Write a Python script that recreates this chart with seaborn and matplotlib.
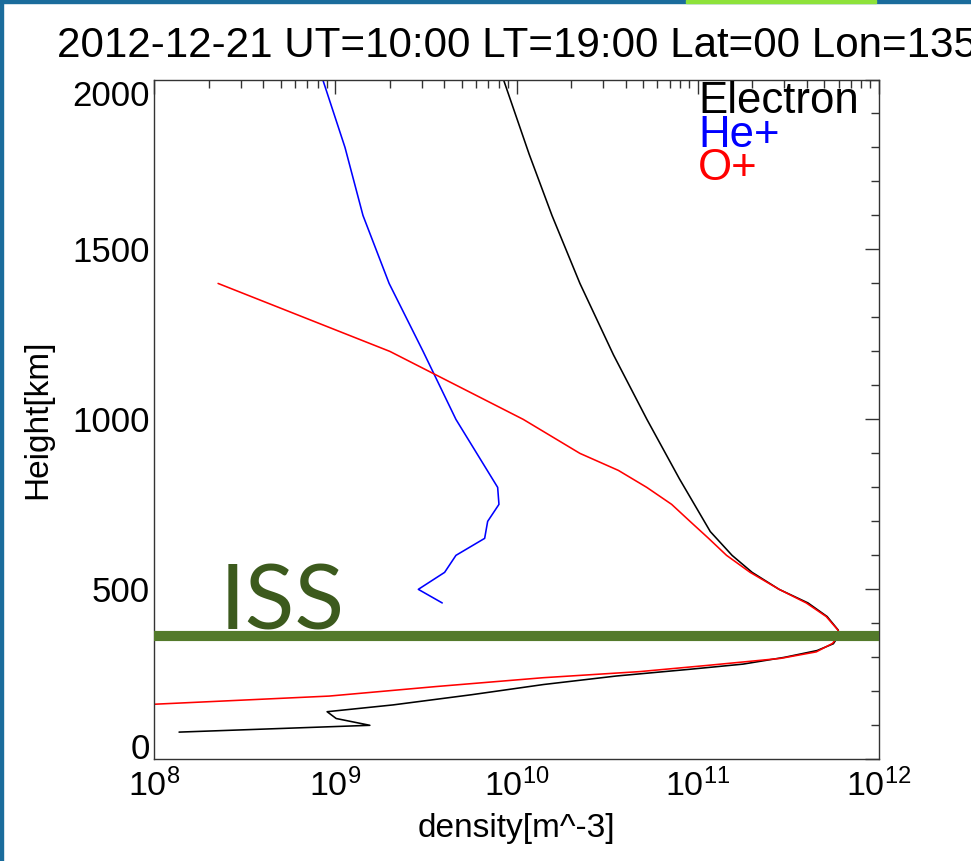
import numpy as np
import pandas as pd
import matplotlib
matplotlib.use("Agg")
import matplotlib.pyplot as plt
from matplotlib.patches import Rectangle
from matplotlib.ticker import MultipleLocator, LogLocator, LogFormatterSciNotation
import seaborn as sns

# ---------------- data ----------------
electron_height = [80, 100, 120, 140, 160, 190, 220, 245, 265, 280, 300, 320, 340, 365,
                   380, 420, 460, 500, 550, 600, 670, 825, 1000, 1190, 1400, 1600, 1780, 2000]
electron_density = [1.37e8, 1.55e9, 1.01e9, 9.0e8, 2.08e9, 5.65e9, 1.41e10, 3.55e10, 9.12e10,
                    1.78e11, 3.02e11, 4.57e11, 5.62e11, 6.03e11, 5.98e11, 5.19e11, 4.07e11,
                    2.82e11, 2.0e11, 1.55e11, 1.175e11, 7.94e10, 5.25e10, 3.43e10, 2.24e10,
                    1.57e10, 1.175e10, 8.47e9]

heplus_height = [460, 500, 550, 600, 650, 700, 750, 800, 1000, 1200, 1400, 1600, 1800, 2000]
heplus_density = [3.89e9, 2.87e9, 4.01e9, 4.63e9, 6.67e9, 6.93e9, 8.0e9, 7.87e9, 4.63e9,
                  3.05e9, 1.98e9, 1.42e9, 1.13e9, 8.51e8]

oplus_height = [162, 186, 214, 240, 258, 276, 297, 316, 341, 365, 380, 420, 460, 500, 550,
                600, 650, 700, 750, 800, 850, 900, 1000, 1200, 1400]
oplus_density = [1.0e8, 9.23e8, 3.59e9, 1.40e10, 4.79e10, 1.12e11, 2.88e11, 4.52e11, 5.56e11,
                 6.03e11, 5.96e11, 5.13e11, 3.98e11, 2.82e11, 1.95e11, 1.445e11, 1.15e11,
                 9.08e10, 7.19e10, 5.24e10, 3.65e10, 2.24e10, 1.09e10, 2.0e9, 2.25e8]

iss_height = 362

series_names = ["Electron", "He+", "O+"]
series_colors = ["#000000", "#0000ff", "#ff0000"]

title_text = "2012-12-21 UT=10:00 LT=19:00 Lat=00 Lon=135"
x_label = "density[m^-3]"
y_label = "Height[km]"
y_major_ticks = [0, 500, 1000, 1500, 2000]

# ---------------- style ----------------
sns.set_style("white")
plt.rcParams["font.family"] = ["Liberation Sans", "DejaVu Sans"]
plt.rcParams["mathtext.fontset"] = "custom"
plt.rcParams["mathtext.rm"] = "Liberation Sans"
plt.rcParams["mathtext.it"] = "Liberation Sans:italic"
plt.rcParams["mathtext.bf"] = "Liberation Sans:bold"
plt.rcParams["mathtext.default"] = "regular"
for key in ["text.color", "axes.labelcolor", "xtick.labelcolor", "ytick.labelcolor"]:
    plt.rcParams[key] = "black"

W, H = 971, 861
fig = plt.figure(figsize=(W / 100, H / 100), dpi=100)
fig.patch.set_facecolor("white")

ax_l, ax_r, ax_b, ax_t = 154.3, 878.7, 759.3, 79.5
ax = fig.add_axes([ax_l / W, 1 - ax_b / H, (ax_r - ax_l) / W, (ax_b - ax_t) / H])

frames = [
    pd.DataFrame({"density": electron_density, "height": electron_height}),
    pd.DataFrame({"density": heplus_density, "height": heplus_height}),
    pd.DataFrame({"density": oplus_density, "height": oplus_height}),
]
for df, col in zip(frames, series_colors):
    sns.lineplot(data=df, x="density", y="height", sort=False, estimator=None,
                 color=col, lw=1.15, ax=ax, legend=False, zorder=2)

ax.set_xscale("log")
ax.set_xlim(1e8, 1e12)
ax.set_ylim(0, 2000)

# ISS line and label
ax.axhline(iss_height, color="#537a2b", lw=7.3, solid_capstyle="butt", zorder=3)
ax.text(2.3e8, iss_height + 19, "ISS", color="#3c5a1d", fontsize=66,
        family=["Lato", "DejaVu Sans"], ha="left", va="baseline", zorder=4)

# legend as coloured text
for i, (name, col) in enumerate(zip(series_names, series_colors)):
    ax.text(0.7506, 0.9507 - i * 0.0495, name, color=col, fontsize=31.5,
            transform=ax.transAxes, ha="left", va="baseline", zorder=5)

# ticks
ax.yaxis.set_major_locator(MultipleLocator(500))
ax.yaxis.set_minor_locator(MultipleLocator(100))
ax.xaxis.set_major_locator(LogLocator(base=10, numticks=10))
ax.xaxis.set_minor_locator(LogLocator(base=10, subs=np.arange(2, 10), numticks=20))
ax.xaxis.set_major_formatter(LogFormatterSciNotation())
ax.set_yticks(y_major_ticks)
ax.set_yticklabels([str(v) for v in y_major_ticks])

spine_col = "#333333"
for s in ax.spines.values():
    s.set_color(spine_col)
    s.set_linewidth(1.0)
ax.tick_params(which="both", direction="in", top=True, right=True, color=spine_col,
               width=1.0, labelcolor="black")
ax.tick_params(which="major", length=10)
ax.tick_params(which="minor", length=5.5)
ax.tick_params(axis="x", which="major", labelsize=24.5, pad=7)
ax.tick_params(axis="y", which="major", labelsize=25, pad=3)

ylabels = ax.get_yticklabels()
ylabels[0].set_verticalalignment("baseline")
ylabels[-1].set_verticalalignment("top")

ax.set_xlabel(x_label, fontsize=24, va="baseline", color="black")
ax.xaxis.set_label_coords(0.5, (ax_b - 837) / (ax_b - ax_t))
ax.set_ylabel(y_label, fontsize=24, va="center", color="black")
ax.yaxis.set_label_coords((38 - ax_l) / (ax_r - ax_l), 0.5)

# title (centred over axes, clipped by the figure edge as in the reference)
fig.text(((ax_l + ax_r) / 2) / W, 1 - 57 / H, title_text, fontsize=30.3,
         ha="center", va="baseline", color="black")

# frame decoration
fig.patches.append(Rectangle((0, 0), 3 / W, 1, transform=fig.transFigure,
                             color="#1a6c9c", zorder=10))
fig.patches.append(Rectangle((0, 1 - 3 / H), 1, 3 / H, transform=fig.transFigure,
                             color="#1a6c9c", zorder=10))
fig.patches.append(Rectangle((686 / W, 1 - 3 / H), 190 / W, 3 / H, transform=fig.transFigure,
                             color="#8ee23a", zorder=11))

fig.savefig("out.png", dpi=100)
